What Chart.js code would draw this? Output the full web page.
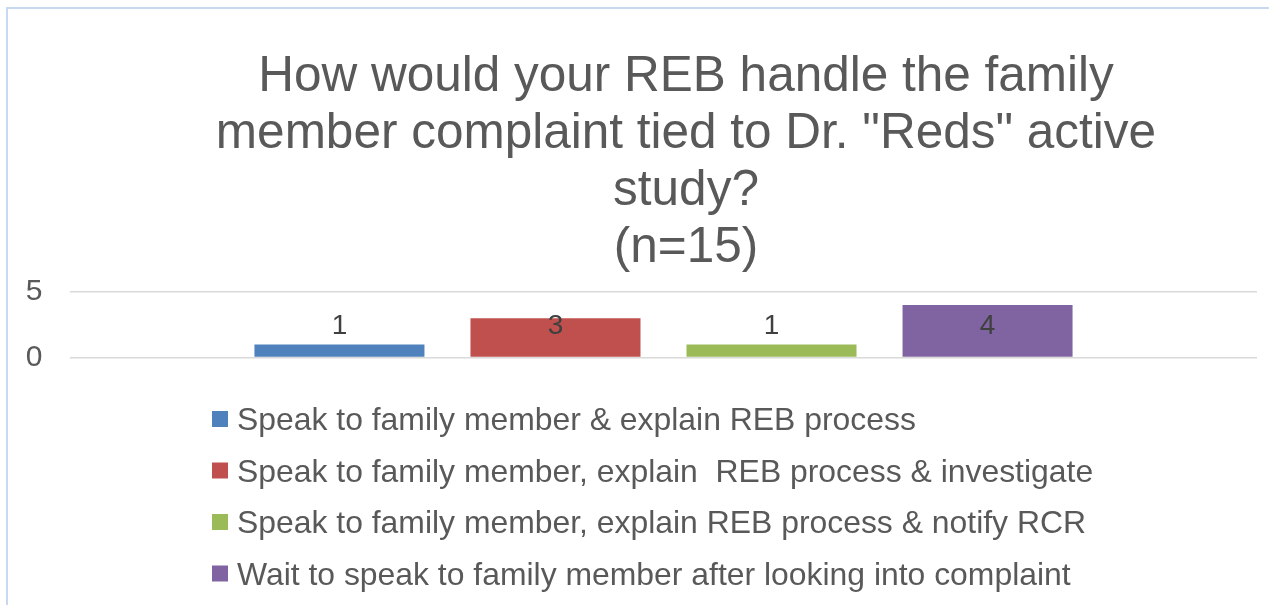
<!DOCTYPE html>
<html>
<head>
<meta charset="utf-8">
<script src="https://cdn.jsdelivr.net/npm/chart.js@4.4.1/dist/chart.umd.min.js"></script>
<style>
  html, body { margin: 0; padding: 0; background: #ffffff; }
  #wrap { width: 1269px; height: 605px; position: relative; }
</style>
</head>
<body>
<div id="wrap"><canvas id="c" width="1269" height="605"></canvas></div>
<script>
const titleLines = ['How would your REB handle the family', 'member complaint tied to Dr. "Reds" active', 'study?', '(n=15)'];
const categories = [''];
const seriesNames = [
  'Speak to family member & explain REB process',
  'Speak to family member, explain  REB process & investigate',
  'Speak to family member, explain REB process & notify RCR',
  'Wait to speak to family member after looking into complaint'
];
const seriesValues = [[1], [3], [1], [4]];
const seriesColors = ['#4F81BD', '#C0504D', '#9BBB59', '#8064A2'];
const yTicks = [0, 5];

const FONT = '"Liberation Sans", Arial, sans-serif';

const decorPlugin = {
  id: 'decor',
  beforeDraw(chart) {
    const ctx = chart.ctx;
    ctx.save();
    ctx.fillStyle = '#ffffff';
    ctx.fillRect(0, 0, chart.width, chart.height);
    ctx.strokeStyle = '#C6D9F1';
    ctx.lineWidth = 2;
    ctx.strokeRect(7, 8, chart.width + 50, chart.height + 50);
    ctx.restore();
  },
  afterDraw(chart) {
    const ctx = chart.ctx;
    ctx.save();
    // Title
    ctx.fillStyle = '#595959';
    ctx.font = '49.5px ' + FONT;
    ctx.textAlign = 'center';
    ctx.textBaseline = 'alphabetic';
    titleLines.forEach((t, i) => ctx.fillText(t, 686, 91 + i * 57));
    // Legend
    ctx.font = '31.9px ' + FONT;
    ctx.textAlign = 'left';
    chart.data.datasets.forEach((ds, i) => {
      const base = 430 + i * 51.5;
      ctx.fillStyle = ds.backgroundColor;
      ctx.fillRect(212, base - 19, 16, 16);
      ctx.fillStyle = '#595959';
      ctx.fillText(ds.label, 237, base);
    });
    // Data labels
    ctx.font = '28px ' + FONT;
    ctx.textAlign = 'center';
    ctx.textBaseline = 'middle';
    ctx.fillStyle = '#404040';
    chart.data.datasets.forEach((ds, i) => {
      const meta = chart.getDatasetMeta(i);
      meta.data.forEach((bar, j) => {
        const centerY = (bar.y + bar.base) / 2;
        const y = Math.min(centerY, bar.base - 30);
        ctx.fillText(String(ds.data[j]), bar.x, y);
      });
    });
    ctx.restore();
  }
};

new Chart(document.getElementById('c'), {
  type: 'bar',
  data: {
    labels: categories,
    datasets: seriesNames.map((name, i) => ({
      label: name,
      data: seriesValues[i],
      backgroundColor: seriesColors[i],
      borderWidth: 0,
      categoryPercentage: 0.728,
      barPercentage: 0.787
    }))
  },
  options: {
    responsive: false,
    animation: false,
    devicePixelRatio: 1,
    layout: { padding: { top: 292, bottom: 247.5, left: 0, right: 12 } },
    plugins: {
      legend: { display: false },
      title: { display: false },
      tooltip: { enabled: false }
    },
    scales: {
      x: { display: false },
      y: {
        min: 0,
        max: 5,
        afterFit(scale) { scale.width = 70; },
        afterBuildTicks(scale) { scale.ticks = yTicks.map(v => ({ value: v })); },
        border: { display: false },
        grid: { color: '#D9D9D9', lineWidth: 1.5, drawTicks: false },
        ticks: { color: '#595959', font: { family: FONT, size: 30 }, padding: 27.5 }
      }
    }
  },
  plugins: [decorPlugin]
});
</script>
</body>
</html>
